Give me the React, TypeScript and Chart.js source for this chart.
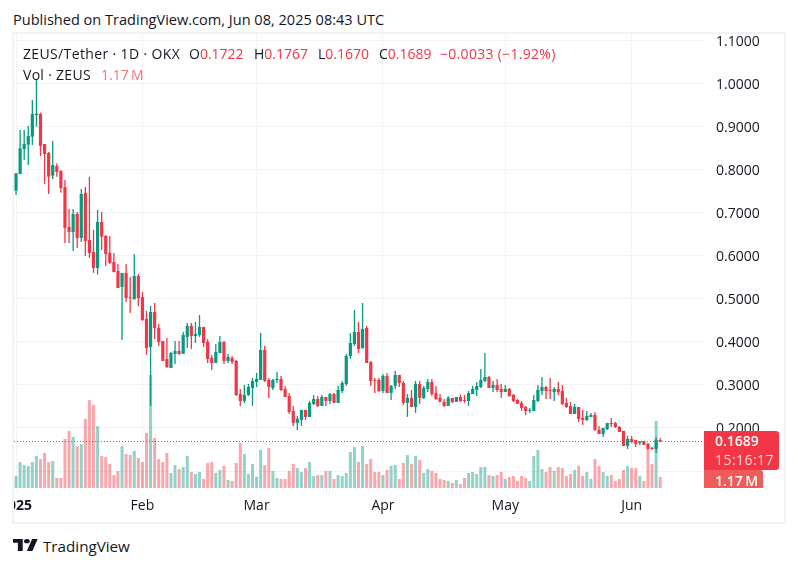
import { useEffect, useRef } from 'react';
import { Chart, registerables } from 'chart.js';

Chart.register(...registerables);

const opens = [
  0.7507, 0.7894, 0.8474, 0.8574, 0.876, 0.9262, 0.9286, 0.859, 0.8381, 0.7856,
  0.808, 0.7964, 0.7593, 0.6665, 0.6549, 0.6967, 0.641, 0.7454, 0.6364, 0.6086,
  0.5714, 0.6781, 0.6456, 0.6062, 0.5852, 0.5643, 0.5272, 0.5597, 0.5032, 0.4994,
  0.5527, 0.504, 0.453, 0.3881, 0.4692, 0.4321, 0.402, 0.3602, 0.3394, 0.3718,
  0.3788, 0.3718, 0.4113, 0.4368, 0.4136, 0.4159, 0.4345, 0.3997, 0.3626, 0.3509,
  0.3742, 0.3997, 0.3556, 0.3626, 0.3556, 0.279, 0.2628, 0.2767, 0.293, 0.3069,
  0.3115, 0.3811, 0.3115, 0.293, 0.3115, 0.3138, 0.2906, 0.2744, 0.2396, 0.2118,
  0.2187, 0.2419, 0.2257, 0.2558, 0.2674, 0.2512, 0.272, 0.2628, 0.279, 0.2582,
  0.286, 0.3022, 0.3671, 0.395, 0.4228, 0.3857, 0.4321, 0.3532, 0.3115, 0.3115,
  0.286, 0.3208, 0.2813, 0.2976, 0.3231, 0.3045, 0.2582, 0.2698, 0.2489, 0.3022,
  0.2698, 0.2906, 0.3069, 0.2813, 0.2698, 0.2605, 0.2512, 0.2697, 0.2604, 0.272,
  0.265, 0.2627, 0.279, 0.2882, 0.2952, 0.3091, 0.3184, 0.2929, 0.2998, 0.2906,
  0.2836, 0.2906, 0.2767, 0.265, 0.2581, 0.2488, 0.2395, 0.2395, 0.2627, 0.2859,
  0.2952, 0.2882, 0.2836, 0.2906, 0.2859, 0.2581, 0.2511, 0.2326, 0.2488, 0.2233,
  0.2187, 0.2256, 0.2303, 0.1955, 0.1862, 0.1978, 0.2117, 0.2117, 0.2024, 0.1932,
  0.1584, 0.1746, 0.1723, 0.1653, 0.17, 0.163, 0.1538, 0.1514, 0.1722,
];

const closes = [
  0.791, 0.8489, 0.859, 0.8775, 0.9286, 0.9293, 0.8544, 0.8358, 0.7832, 0.8103,
  0.7941, 0.757, 0.6642, 0.6549, 0.6967, 0.641, 0.743, 0.634, 0.6062, 0.5714,
  0.6781, 0.6441, 0.604, 0.5829, 0.562, 0.5249, 0.5597, 0.5017, 0.5009, 0.5527,
  0.5017, 0.4507, 0.3858, 0.4692, 0.4321, 0.3997, 0.3556, 0.3417, 0.3742, 0.3788,
  0.3718, 0.4159, 0.4368, 0.4136, 0.4182, 0.4345, 0.3973, 0.3602, 0.3509, 0.3765,
  0.3997, 0.3556, 0.3649, 0.3533, 0.2767, 0.2628, 0.2767, 0.2953, 0.3092, 0.3139,
  0.3811, 0.3092, 0.2953, 0.3115, 0.3139, 0.2883, 0.272, 0.2373, 0.2118, 0.2211,
  0.2419, 0.2257, 0.2582, 0.2674, 0.2512, 0.272, 0.2628, 0.279, 0.2582, 0.2883,
  0.3045, 0.3671, 0.3973, 0.4228, 0.3834, 0.4298, 0.3509, 0.3092, 0.3092, 0.286,
  0.3208, 0.2813, 0.2976, 0.3231, 0.3045, 0.2582, 0.2698, 0.2489, 0.3022, 0.2698,
  0.2929, 0.3069, 0.279, 0.2674, 0.2605, 0.2512, 0.2698, 0.2604, 0.272, 0.2627,
  0.2627, 0.2813, 0.2906, 0.2975, 0.3114, 0.3184, 0.2929, 0.2998, 0.2882, 0.2836,
  0.2906, 0.2743, 0.2627, 0.2558, 0.2465, 0.2395, 0.2419, 0.265, 0.2882, 0.2952,
  0.2859, 0.2859, 0.2906, 0.2836, 0.2558, 0.2488, 0.2326, 0.2488, 0.221, 0.2187,
  0.2279, 0.2303, 0.1955, 0.1862, 0.2001, 0.2117, 0.2094, 0.2024, 0.1909, 0.1584,
  0.1746, 0.1677, 0.163, 0.1677, 0.1607, 0.1514, 0.1514, 0.1723, 0.1689,
];

const highs = [
  0.791, 0.8915, 0.8915, 0.9007, 0.961, 1.0074, 0.9317, 0.859, 0.8404, 0.866,
  0.8142, 0.7987, 0.7755, 0.7083, 0.7083, 0.7013, 0.7546, 0.7593, 0.7825, 0.6596,
  0.706, 0.7013, 0.648, 0.6456, 0.606, 0.5805, 0.5597, 0.5805, 0.5504, 0.6037,
  0.5574, 0.5156, 0.4715, 0.4831, 0.4901, 0.4414, 0.402, 0.409, 0.3765, 0.402,
  0.402, 0.4228, 0.4437, 0.4437, 0.446, 0.4623, 0.4345, 0.4066, 0.3695, 0.395,
  0.4136, 0.402, 0.3718, 0.3672, 0.3579, 0.2907, 0.2999, 0.3023, 0.3162, 0.3278,
  0.4205, 0.3904, 0.3162, 0.3139, 0.3301, 0.3208, 0.2976, 0.2813, 0.2512, 0.228,
  0.2419, 0.2419, 0.2628, 0.2767, 0.2744, 0.2767, 0.272, 0.2813, 0.2813, 0.2976,
  0.3092, 0.3718, 0.4205, 0.4738, 0.446, 0.4901, 0.4367, 0.3556, 0.3161, 0.3161,
  0.3254, 0.3277, 0.2999, 0.3324, 0.3231, 0.3092, 0.279, 0.2883, 0.3092, 0.3092,
  0.2976, 0.3138, 0.3138, 0.2976, 0.279, 0.2674, 0.2744, 0.2697, 0.272, 0.2782,
  0.2767, 0.2859, 0.2975, 0.3068, 0.3369, 0.374, 0.3207, 0.3091, 0.3138, 0.3022,
  0.2998, 0.2929, 0.279, 0.2674, 0.2627, 0.2511, 0.2465, 0.2767, 0.2998, 0.3184,
  0.2975, 0.3161, 0.2952, 0.3068, 0.2998, 0.2697, 0.2604, 0.2558, 0.2488, 0.2419,
  0.2395, 0.2349, 0.2372, 0.2048, 0.2001, 0.2117, 0.2233, 0.214, 0.2048, 0.1932,
  0.1816, 0.1816, 0.1723, 0.17, 0.17, 0.1653, 0.1561, 0.1793, 0.1767,
];

const lows = [
  0.7407, 0.789, 0.8219, 0.8103, 0.8567, 0.8992, 0.8312, 0.7662, 0.743, 0.7778,
  0.7832, 0.7461, 0.6294, 0.6294, 0.6109, 0.6178, 0.6317, 0.5993, 0.5946, 0.56,
  0.556, 0.6132, 0.576, 0.5805, 0.561, 0.5245, 0.4043, 0.4924, 0.4669, 0.4971,
  0.4831, 0.4484, 0.3695, 0.2512, 0.4066, 0.3904, 0.3556, 0.3394, 0.3394, 0.3486,
  0.3695, 0.3718, 0.3858, 0.3834, 0.3973, 0.4113, 0.388, 0.3509, 0.3347, 0.3509,
  0.3742, 0.3486, 0.3509, 0.3486, 0.2744, 0.2512, 0.2582, 0.2744, 0.2512, 0.2953,
  0.3115, 0.3069, 0.2698, 0.2884, 0.3046, 0.286, 0.272, 0.2326, 0.2048, 0.1955,
  0.2048, 0.2187, 0.2257, 0.2535, 0.2489, 0.2512, 0.2512, 0.2558, 0.2582, 0.2582,
  0.2813, 0.2976, 0.3602, 0.3903, 0.3741, 0.3834, 0.3509, 0.2976, 0.2813, 0.2837,
  0.2813, 0.2813, 0.2651, 0.2906, 0.2953, 0.2535, 0.2257, 0.2489, 0.235, 0.2558,
  0.2674, 0.2837, 0.2744, 0.2651, 0.2605, 0.2489, 0.2512, 0.2581, 0.2604, 0.2604,
  0.2581, 0.2511, 0.279, 0.2743, 0.2929, 0.3068, 0.2929, 0.2836, 0.2836, 0.2697,
  0.2836, 0.272, 0.2604, 0.2558, 0.2395, 0.2303, 0.2349, 0.2395, 0.2604, 0.2767,
  0.2674, 0.2674, 0.2627, 0.2767, 0.2535, 0.2465, 0.2326, 0.2326, 0.214, 0.2071,
  0.2164, 0.2256, 0.1932, 0.1862, 0.1793, 0.1955, 0.2024, 0.2001, 0.1909, 0.1584,
  0.1514, 0.1653, 0.1561, 0.1607, 0.1607, 0.1491, 0.1491, 0.1422, 0.167,
];

// in millions
const volumes = [
  1.27, 2.76, 2.44, 2.34, 2.76, 3.4, 3.08, 3.72, 2.76, 2.87,
  1.06, 1.06, 5.2, 6.05, 5.42, 4.46, 4.67, 7.33, 9.35, 8.81,
  6.58, 3.4, 3.29, 2.55, 1.38, 1.81, 4.46, 3.61, 3.5, 3.93,
  3.19, 2.76, 5.84, 12.0, 5.31, 3.08, 2.76, 3.72, 1.59, 2.44,
  2.02, 2.23, 3.4, 1.7, 1.49, 1.7, 0.96, 2.66, 2.76, 1.59,
  1.91, 2.34, 0.85, 0.74, 2.66, 4.78, 3.61, 1.49, 2.55, 1.17,
  4.04, 2.44, 4.25, 1.81, 1.06, 0.96, 0.96, 1.81, 2.55, 2.12,
  1.7, 2.12, 2.76, 1.27, 1.38, 1.38, 1.81, 1.81, 0.96, 1.38,
  1.27, 1.59, 3.82, 4.35, 2.76, 4.46, 2.55, 3.08, 1.7, 1.7,
  1.38, 1.91, 2.34, 2.44, 0.96, 2.66, 3.5, 2.55, 3.4, 2.97,
  1.59, 2.02, 1.81, 1.59, 0.96, 0.85, 0.74, 0.53, 0.85, 0.42,
  1.06, 1.59, 1.7, 1.49, 2.23, 2.23, 1.38, 1.27, 1.38, 1.7,
  0.96, 1.17, 1.27, 0.74, 1.27, 1.06, 0.74, 3.4, 4.04, 2.02,
  1.7, 2.23, 1.81, 2.23, 2.12, 1.27, 1.49, 1.91, 2.34, 1.27,
  1.7, 0.96, 3.08, 2.34, 1.7, 1.27, 1.38, 0.74, 0.96, 1.91,
  2.34, 2.12, 2.12, 1.27, 0.74, 4.04, 2.55, 7.12, 1.17,
];

// slots on the time axis: the 159 days plus the empty space right of the last candle
const dayLabels = Array.from({ length: 169 }, (_, i) => String(i));
const monthIndexes = [0, 31, 59, 90, 120, 151];
const monthNames = ['2025', 'Feb', 'Mar', 'Apr', 'May', 'Jun'];
const priceTicks = [1.1, 1.0, 0.9, 0.8, 0.7, 0.6, 0.5, 0.4, 0.3, 0.2, 0.1];
const lastClose = 0.1689;

const UP = '#089981';
const DOWN = '#F23645';
const UP_VOL = 'rgba(8, 153, 129, 0.44)';
const DOWN_VOL = 'rgba(242, 54, 69, 0.44)';
const GRID = '#f3f3f3';
const TEXT = '#131722';
const FONT = '"Open Sans", sans-serif';

const lastPriceLine = {
  id: 'lastPriceLine',
  afterDatasetsDraw(chart: Chart) {
    const { ctx, chartArea, scales } = chart;
    const y = Math.round(scales.y.getPixelForValue(lastClose)) + 0.5;
    ctx.save();
    ctx.strokeStyle = DOWN;
    ctx.lineWidth = 1;
    ctx.setLineDash([1, 2]);
    ctx.beginPath();
    ctx.moveTo(chartArea.left, y);
    ctx.lineTo(chartArea.right, y);
    ctx.stroke();
    ctx.restore();
  },
};

const pos = (left: number, top: number, extra: React.CSSProperties = {}): React.CSSProperties => ({
  position: 'absolute',
  left,
  top,
  whiteSpace: 'nowrap',
  fontFamily: FONT,
  fontSize: 14,
  lineHeight: '20px',
  color: TEXT,
  ...extra,
});

export default function App() {
  const canvas = useRef<HTMLCanvasElement | null>(null);

  useEffect(() => {
    const node = canvas.current;
    if (!node) {
      return;
    }

    const candleColors = closes.map((c, i) => (c >= opens[i] ? UP : DOWN));
    const volumeColors = closes.map((c, i) => (c >= opens[i] ? UP_VOL : DOWN_VOL));

    const chart = new Chart(node, {
      type: 'bar',
      data: {
        labels: dayLabels,
        datasets: [
          {
            label: 'Body',
            data: opens.map((o, i) => [o, closes[i]]),
            backgroundColor: candleColors,
            barThickness: 3.2,
            minBarLength: 1,
            inflateAmount: 0,
            grouped: false,
            order: 1,
          },
          {
            label: 'Wick',
            data: lows.map((l, i) => [l, highs[i]]),
            backgroundColor: candleColors,
            barThickness: 1.3,
            inflateAmount: 0,
            grouped: false,
            order: 2,
          },
          {
            label: 'Vol',
            data: volumes,
            yAxisID: 'vol',
            backgroundColor: volumeColors,
            barThickness: 3,
            inflateAmount: 0,
            grouped: false,
            order: 3,
          },
        ] as any,
      },
      options: {
        responsive: false,
        animation: false,
        layout: { padding: 0 },
        plugins: { legend: { display: false }, tooltip: { enabled: false } },
        scales: {
          x: {
            type: 'category',
            offset: true,
            grid: { color: GRID, offset: false, drawTicks: false },
            border: { display: false },
            afterBuildTicks: (axis: any) => {
              axis.ticks = monthIndexes.map((value) => ({ value }));
            },
            afterFit: (axis: any) => {
              axis.height = 31;
              axis.paddingLeft = 0;
              axis.paddingRight = 0;
            },
            ticks: {
              autoSkip: false,
              maxRotation: 0,
              padding: 7,
              color: TEXT,
              font: (ctx: any) => ({ family: FONT, size: 14, weight: ctx.index === 0 ? 'bold' : 'normal' }),
              callback: (_value: any, index: number) => monthNames[index],
            },
          },
          y: {
            position: 'right',
            min: 0.0538,
            max: 1.1142,
            grid: { color: GRID, drawTicks: false },
            border: { display: false },
            afterBuildTicks: (axis: any) => {
              axis.ticks = priceTicks.map((value) => ({ value }));
            },
            afterFit: (axis: any) => {
              axis.width = 81;
              axis.paddingTop = 0;
              axis.paddingBottom = 0;
            },
            ticks: {
              padding: 13,
              color: TEXT,
              // blank first line with a 3px line height nudges the label down to where the reference has it
              font: { family: FONT, size: 14, lineHeight: '3px' },
              callback: (value: any) => ['', Number(value).toFixed(4)],
            },
          },
          vol: {
            display: false,
            min: -0.32,
            max: 48.2,
          },
        },
      },
      plugins: [lastPriceLine],
    });

    return () => {
      chart.destroy();
    };
  }, []);

  return (
    <div style={{ position: 'absolute', left: 0, top: 0, width: 798, height: 567, background: '#fff', overflow: 'hidden' }}>
      <div style={pos(13, 9, { fontSize: 14.55 })}>Published on TradingView.com, Jun 08, 2025 08:43 UTC</div>

      <div style={{ position: 'absolute', left: 12, top: 32, width: 774, height: 492, border: '2px solid #f2f3f5', boxSizing: 'border-box' }} />
      <canvas ref={canvas} width={770} height={488} style={{ position: 'absolute', left: 14, top: 34, display: 'block' }} />

      <div style={pos(23, 44, { letterSpacing: 0.36 })}>ZEUS/Tether · 1D · OKX</div>
      <div style={pos(189, 44)}>O<span style={{ color: DOWN }}>0.1722</span></div>
      <div style={pos(254, 44)}>H<span style={{ color: DOWN }}>0.1767</span></div>
      <div style={pos(318, 44)}>L<span style={{ color: DOWN }}>0.1670</span></div>
      <div style={pos(379, 44)}>C<span style={{ color: DOWN }}>0.1689</span></div>
      <div style={pos(440, 44, { color: DOWN, letterSpacing: 0.3 })}>−0.0033 (−1.92%)</div>
      <div style={pos(23, 65, { letterSpacing: 0.3 })}>Vol · ZEUS</div>
      <div style={pos(101, 65, { color: '#F7707B' })}>1.17{'\u2009'}M</div>

      <div style={{ position: 'absolute', left: 704, top: 470, width: 59, height: 18, background: '#EF5A5A', borderTopRightRadius: 3 }} />
      <div style={{ position: 'absolute', left: 704, top: 431, width: 75, height: 39, background: DOWN, borderRadius: '0 3px 3px 0' }} />
      <div style={pos(715, 431, { color: '#fff', fontWeight: 600 })}>0.1689</div>
      <div style={pos(715, 450, { color: 'rgba(255,255,255,0.8)', letterSpacing: 0.45 })}>15:16:17</div>
      <div style={pos(715, 472, { color: '#fff', fontWeight: 600, lineHeight: '18px' })}>1.17{'\u2009'}M</div>

      <svg width="25" height="12" viewBox="0 0 36 22" preserveAspectRatio="none" style={{ position: 'absolute', left: 13, top: 539 }}>
        <path fill={TEXT} d="M14 22H7V7H0V0h14v22zM28 22h-8l7.5-22h8L28 22z" />
        <circle fill={TEXT} cx="20" cy="4" r="4" />
      </svg>
      <div style={pos(43, 535, { fontSize: 15.2, lineHeight: '22px', fontWeight: 400 })}>TradingView</div>
    </div>
  );
}
